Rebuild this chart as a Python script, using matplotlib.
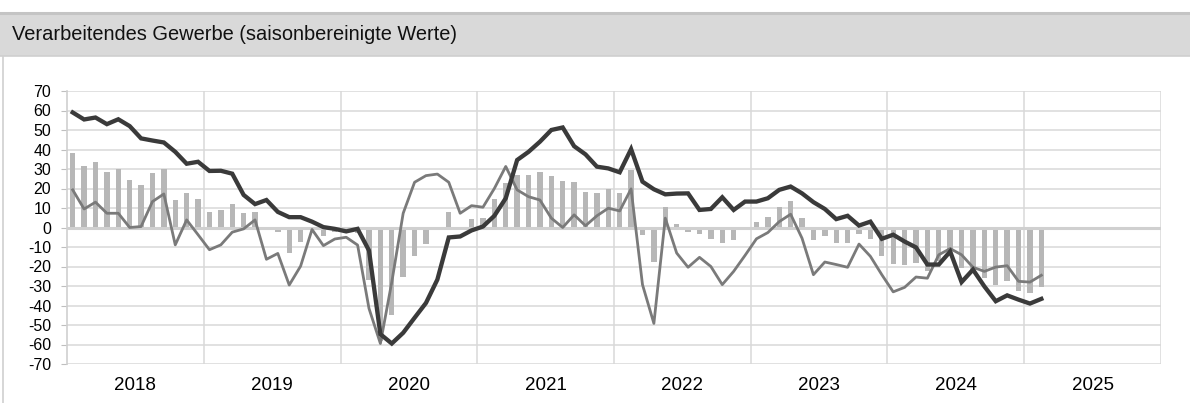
import numpy as np
import matplotlib
matplotlib.use("Agg")
import matplotlib.pyplot as plt
from matplotlib.patches import Rectangle
from matplotlib.lines import Line2D

plt.rcParams['font.family'] = ['Liberation Sans', 'DejaVu Sans']
plt.rcParams['axes.unicode_minus'] = False

# monatswerte jan 2018 - feb 2025
years = ['2018', '2019', '2020', '2021', '2022', '2023', '2024', '2025']

bars = [38, 31.3, 33.4, 28.6, 29.8, 24.4, 21.8, 27.8, 29.8, 14.1, 17.5, 14.5,
        7.7, 9, 11.9, 7.3, 7.8, -1.5, -2.4, -13.3, -7.5, -1, -4.6, -2.5,
        -2, -3, -26.8, -58, -44.8, -25.5, -14.5, -8.7, 0, 8.2, 0.5, 4.3,
        5.1, 14.5, 23, 27, 27, 28.6, 26.6, 24, 23.2, 18.4, 17.5, 19.6,
        17.5, 29.5, -4.1, -17.7, 10.4, 1.7, -2.4, -3.4, -5.8, -8, -6.5, -1.4,
        2.7, 5.6, 10.7, 13.6, 5.1, -6.6, -4.6, -7.7, -7.7, -3.4, -6, -14.8,
        -18.7, -19, -18.4, -22.3, -17.4, -12.3, -21, -21.6, -25.8, -29.3, -27.6, -32.4,
        -33.4, -30.7]

duenn = [19.3, 9.5, 13, 7.3, 7.3, 0, 0.5, 13.3, 17.2, -8.9, 3.9, -3.7,
         -11.4, -8.9, -2.4, -0.7, 3.9, -16.3, -13.3, -29.5, -19.8, -1, -9.3, -5.9,
         -5, -9, -41.5, -59.5, -28, 7.3, 23.2, 26.6, 27.4, 23.2, 7.3, 11.2,
         10.4, 20, 31.3, 19.3, 15.8, 14.1, 4.8, 0, 6.5, 0.9, 6, 9.9,
         8.5, 19.8, -29.3, -49.2, 4.8, -13.1, -20.4, -15.3, -20, -29.3, -22.5, -14.3,
         -5.8, -2.6, 3, 6.8, -5.5, -24.2, -17.7, -19, -20.4, -8.5, -14.8, -24.2,
         -33, -30.7, -25.4, -26, -14, -10.8, -14, -20.4, -22.5, -20.3, -19.6, -27.6,
         -28, -24.5]

dick = [59, 55.4, 56.4, 53, 55.5, 52, 45.7, 44.6, 43.6, 38.8, 32.7, 33.7,
        29, 29.1, 27.6, 16.7, 12, 14.1, 8, 5.3, 5.3, 3, 0.2, -0.7,
        -2, -0.7, -11.8, -54.7, -59.5, -54, -46.3, -38.7, -26.7, -5.1, -4.6, -1.5,
        0.5, 6, 15, 34.6, 38.8, 44, 50, 51.3, 41.7, 37.5, 31.2, 30.3,
        28.3, 40.2, 23.5, 19.6, 17, 17.4, 17.5, 9, 9.5, 15.5, 9, 13.3,
        13.3, 15, 19.3, 21, 17.5, 13, 9.5, 4.3, 6, 1, 3, -5.8,
        -3.7, -7.2, -10.2, -19, -19, -12.3, -28, -21.6, -30.2, -37.8, -34.8, -37,
        -39, -36.6]

x = np.arange(len(bars))
nmonate = 12 * len(years)

fig = plt.figure(figsize=(11.9, 4.03), dpi=100)

# titelbalken
fig.add_artist(Rectangle((0, 1 - 56/403), 1, 44/403, transform=fig.transFigure,
                         facecolor='#d9d9d9', edgecolor='none'))
fig.add_artist(Line2D([0, 1], [1 - 12.5/403, 1 - 12.5/403], transform=fig.transFigure,
                      color='#c4c4c4', lw=2.2))
fig.add_artist(Line2D([0, 1], [1 - 56/403, 1 - 56/403], transform=fig.transFigure,
                      color='#cfcfcf', lw=1.2))
fig.add_artist(Line2D([3/1190, 3/1190], [0, 1 - 56/403], transform=fig.transFigure,
                      color='#d0d0d0', lw=1.2))
fig.text(12/1190, 1 - 35/403, 'Verarbeitendes Gewerbe (saisonbereinigte Werte)',
         fontsize=14.4, va='center', ha='left', color='#111111')

ax = fig.add_axes([67/1190, 1 - 364/403, 1094/1190, 273/403])
ax.bar(x, bars, width=0.47, color='#b7b7b7', zorder=2)
ax.plot(x, duenn, color='#7a7a7a', lw=2.0, zorder=3)
ax.plot(x, dick, color='#3a3a3a', lw=3.1, zorder=4, solid_joinstyle='miter')

ax.set_xlim(-0.5, nmonate - 0.5)
ax.set_ylim(-70, 70)
ax.set_yticks(np.arange(-70, 71, 10))
for y in np.arange(-70, 71, 10):
    if y == 0:
        ax.axhline(y, color='#d0d0d0', lw=2.2, zorder=2.5)
    else:
        ax.axhline(y, color='#d9d9d9', lw=1.1, zorder=1)
for k in range(1, len(years) + 1):
    ax.axvline(12 * k - 0.5, color='#d9d9d9', lw=1.1, zorder=1)

ax.set_xticks([12 * k + 5.5 for k in range(len(years))])
ax.set_xticklabels(years, fontsize=13.5)
ax.tick_params(axis='x', length=0, pad=9)
ax.tick_params(axis='y', length=4, color='#bfbfbf', labelsize=11.5, pad=7.5)

for s in ['top', 'right', 'bottom']:
    ax.spines[s].set_visible(False)
ax.spines['left'].set_color('#d0d0d0')
ax.spines['left'].set_linewidth(1.2)

fig.savefig('out.png', dpi=100)
